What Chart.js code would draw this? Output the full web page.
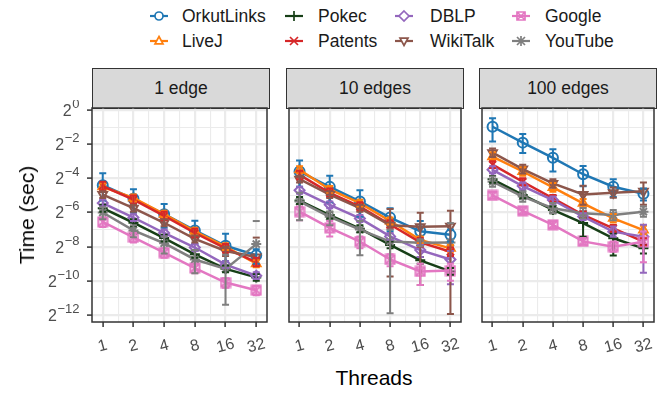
<!DOCTYPE html>
<html>
<head>
<meta charset="utf-8">
<script src="https://cdn.jsdelivr.net/npm/chart.js@4/dist/chart.umd.min.js"></script>
<style>
  body { margin: 0; background: #fff; width: 665px; height: 393px; position: relative; overflow: hidden;
         font-family: "Liberation Sans", Arial, sans-serif; }
  canvas { position: absolute; }
  .strip { position: absolute; top: 68px; height: 41px; width: 178px; box-sizing: border-box;
           background: #D9D9D9; border: 1.4px solid #333; font-size: 17.5px; color: #1a1a1a;
           text-align: center; line-height: 38px; }
  .lg { position: absolute; font-size: 17.5px; color: #1a1a1a; line-height: 20px; white-space: nowrap; }
  .title { position: absolute; font-size: 21px; color: #000; white-space: nowrap; }
</style>
</head>
<body>
<div id="legend"></div>
<div class="strip" style="left:92px">1 edge</div>
<div class="strip" style="left:286px">10 edges</div>
<div class="strip" style="left:479px">100 edges</div>
<canvas id="p0" width="274" height="265" style="left:0px;top:100px"></canvas>
<canvas id="p1" width="186" height="265" style="left:282px;top:100px"></canvas>
<canvas id="p2" width="186" height="265" style="left:475px;top:100px"></canvas>
<div class="title" style="left:27px;top:215px;transform:translate(-50%,-50%) rotate(-90deg)">Time (sec)</div>
<div class="title" style="left:374px;top:378px;transform:translate(-50%,-50%)">Threads</div>
<script>
// Threads on x, time on a log2 axis (values below are log2 of seconds)
const threads = ['1', '2', '4', '8', '16', '32'];
const panelTitles = ['1 edge', '10 edges', '100 edges'];
const seriesNames = ['OrkutLinks', 'LiveJ', 'Pokec', 'Patents', 'DBLP', 'WikiTalk', 'Google', 'YouTube'];
const seriesColors = ['#1F77B4', '#FF7F0E', '#173F17', '#D62728', '#9467BD', '#8C564B', '#E377C2', '#7F7F7F'];
const yTickPowers = [0, -2, -4, -6, -8, -10, -12];

// 1 edge
const time1 = [
  [-4.4, -5.2, -6.1, -7.05, -7.95, -8.5],
  [-4.5, -5.15, -6.1, -7.1, -8.0, -9.0],
  [-5.75, -6.6, -7.5, -8.45, -9.3, -9.8],
  [-4.45, -5.25, -6.2, -7.2, -8.1, -8.9],
  [-5.45, -6.3, -7.2, -8.05, -9.05, -9.7],
  [-4.95, -5.75, -6.6, -7.55, -8.25, -8.6],
  [-6.55, -7.45, -8.35, -9.25, -10.1, -10.55],
  [-6.0, -7.05, -7.8, -8.75, -9.3, -7.85]
];
const up1 = [
  [0.7, 0.56, 0.6, 0.56, 0.7, 0.35],
  [0.2, 0.2, 0.2, 0.2, 0.2, 0.2],
  [0.2, 0.2, 0.2, 0.2, 0.2, 0.2],
  [0.25, 0.25, 0.25, 0.25, 0.25, 0.25],
  [0.2, 0.2, 0.2, 0.2, 0.2, 0.2],
  [0.2, 0.2, 0.2, 0.2, 0.25, 1.13],
  [0.25, 0.25, 0.25, 0.25, 0.25, 0.25],
  [0.3, 0.3, 0.4, 0.55, 0.82, 1.35]
];
const down1 = [
  [0.9, 0.8, 0.8, 0.8, 0.9, 0.5],
  [0.2, 0.2, 0.2, 0.2, 0.2, 0.2],
  [0.2, 0.2, 0.2, 0.2, 0.2, 0.2],
  [0.25, 0.25, 0.25, 0.25, 0.25, 0.25],
  [0.2, 0.2, 0.2, 0.2, 0.2, 0.2],
  [0.2, 0.2, 0.2, 0.2, 0.3, null],
  [0.3, 0.3, 0.3, 0.3, 0.3, 0.3],
  [0.4, 0.4, 0.6, 0.8, 2.1, null]
];

// 10 edges
const time10 = [
  [-3.6, -4.5, -5.35, -6.3, -7.1, -7.3],
  [-3.5, -4.65, -5.45, -6.5, -7.6, -8.1],
  [-5.3, -6.15, -6.95, -7.9, -8.8, -9.45],
  [-3.8, -4.85, -5.65, -6.7, -7.75, -8.3],
  [-4.7, -5.55, -6.35, -7.4, -8.2, -8.75],
  [-4.05, -4.95, -5.75, -6.75, -6.83, -6.8],
  [-5.95, -6.9, -7.7, -8.75, -9.45, -9.4],
  [-5.35, -6.25, -7.0, -7.7, -7.77, -7.75]
];
const up10 = [
  [0.65, 0.65, 0.65, 0.55, 0.6, 0.3],
  [0.2, 0.2, 0.2, 0.2, 0.2, 0.2],
  [0.2, 0.2, 0.2, 0.2, 0.2, 0.2],
  [0.25, 0.25, 0.25, 0.25, 0.25, 0.25],
  [0.2, 0.2, 0.2, 0.2, 0.3, 0.5],
  [0.2, 0.2, 0.2, 0.95, 0.82, 0.9],
  [0.3, 0.4, 0.3, 0.3, 0.45, 0.4],
  [0.5, 0.3, 0.5, 0.7, 0.2, 1.13]
];
const down10 = [
  [0.9, 0.9, 0.9, 0.8, 0.8, 0.4],
  [0.2, 0.2, 0.2, 0.2, 0.2, 0.2],
  [0.2, 0.2, 0.2, 0.2, 0.2, 0.2],
  [0.25, 0.25, 0.25, 0.25, 0.25, 0.25],
  [0.2, 0.2, 0.2, 0.2, 0.4, 1.45],
  [0.2, 0.2, 0.2, 3.0, 3.42, 5.14],
  [0.5, 0.5, 0.4, 0.4, 0.8, 0.6],
  [1.1, 0.5, 1.5, 4.2, 0.2, null]
];

// 100 edges
const time100 = [
  [-0.98, -1.91, -2.8, -3.76, -4.49, -4.9],
  [-2.73, -3.6, -4.53, -5.46, -6.34, -7.03],
  [-4.06, -4.97, -5.85, -6.62, -7.51, -8.1],
  [-3.2, -4.2, -5.17, -6.14, -6.93, -7.71],
  [-3.5, -4.45, -5.27, -6.24, -7.12, -7.42],
  [-2.5, -3.46, -4.3, -4.94, -4.84, -4.75],
  [-5.0, -5.9, -6.72, -7.69, -8.0, -7.71],
  [-4.2, -5.07, -5.75, -6.04, -6.15, -5.95]
];
const up100 = [
  [0.49, 0.5, 0.5, 0.48, 0.43, 0.3],
  [0.25, 0.25, 0.25, 0.25, 0.25, 0.25],
  [0.2, 0.2, 0.2, 0.3, 0.3, 0.2],
  [0.2, 0.2, 0.2, 0.2, 0.2, 0.2],
  [0.2, 0.2, 0.2, 0.2, 0.3, 0.7],
  [0.25, 0.25, 0.25, 0.5, 0.3, 0.5],
  [0.2, 0.2, 0.2, 0.2, 0.3, 0.6],
  [0.3, 0.3, 0.3, 0.3, 0.3, 0.3]
];
const down100 = [
  [0.87, 0.6, 0.8, 0.7, 0.6, 0.4],
  [0.25, 0.25, 0.25, 0.25, 0.25, 0.25],
  [0.2, 0.2, 0.2, 0.8, 1.0, 0.3],
  [0.2, 0.2, 0.2, 0.2, 0.2, 0.2],
  [0.2, 0.2, 0.2, 0.2, 0.3, 2.1],
  [0.25, 0.25, 0.25, 0.6, 0.3, 0.8],
  [0.2, 0.2, 0.2, 0.2, 0.3, 1.2],
  [0.3, 0.3, 0.3, 0.3, 0.3, 0.3]
];

const times = [time1, time10, time100];
const ups = [up1, up10, up100];
const downs = [down1, down10, down100];

// google marker: square with a cross
function boxCross(color) {
  const c = document.createElement('canvas');
  c.width = c.height = 12;
  const g = c.getContext('2d');
  g.strokeStyle = color;
  g.lineWidth = 2;
  g.strokeRect(1.5, 1.5, 9, 9);
  g.beginPath();
  g.moveTo(1.5, 1.5); g.lineTo(10.5, 10.5);
  g.moveTo(10.5, 1.5); g.lineTo(1.5, 10.5);
  g.stroke();
  return c;
}

const pointStyles = ['circle', 'triangle', 'cross', 'crossRot', 'rectRot', 'triangle', boxCross(seriesColors[6]), 'star'];
const pointRots = [0, 0, 0, 0, 0, 180, 0, 0];

// legend keys
function drawKey(g, i, cx, cy) {
  const col = seriesColors[i];
  g.strokeStyle = col;
  g.lineWidth = 2.2;
  g.beginPath(); g.moveTo(cx - 9, cy); g.lineTo(cx + 9, cy); g.stroke();
  g.lineWidth = 1.7;
  g.beginPath();
  const r = 4;
  switch (i) {
    case 0: g.arc(cx, cy, r, 0, Math.PI * 2); break;
    case 1: g.moveTo(cx, cy - r - 0.5); g.lineTo(cx + r, cy + r * 0.7); g.lineTo(cx - r, cy + r * 0.7); g.closePath(); break;
    case 2: g.moveTo(cx - r - 1, cy); g.lineTo(cx + r + 1, cy); g.moveTo(cx, cy - r - 1); g.lineTo(cx, cy + r + 1); break;
    case 3: g.moveTo(cx - r, cy - r); g.lineTo(cx + r, cy + r); g.moveTo(cx + r, cy - r); g.lineTo(cx - r, cy + r); break;
    case 4: g.moveTo(cx, cy - r - 1); g.lineTo(cx + r + 1, cy); g.lineTo(cx, cy + r + 1); g.lineTo(cx - r - 1, cy); g.closePath(); break;
    case 5: g.moveTo(cx, cy + r + 0.5); g.lineTo(cx + r, cy - r * 0.7); g.lineTo(cx - r, cy - r * 0.7); g.closePath(); break;
    case 6: g.rect(cx - r, cy - r, 2 * r, 2 * r); g.moveTo(cx - r, cy - r); g.lineTo(cx + r, cy + r); g.moveTo(cx + r, cy - r); g.lineTo(cx - r, cy + r); break;
    case 7:
      g.moveTo(cx - r - 1, cy); g.lineTo(cx + r + 1, cy); g.moveTo(cx, cy - r - 1); g.lineTo(cx, cy + r + 1);
      g.moveTo(cx - r, cy - r); g.lineTo(cx + r, cy + r); g.moveTo(cx + r, cy - r); g.lineTo(cx - r, cy + r); break;
  }
  if (i === 0 || i === 1 || i === 4 || i === 5) { g.fillStyle = '#fff'; g.fill(); }
  g.stroke();
}

const keyX = [159, 294, 404, 521];
const textX = [182, 318, 430, 545];
const rowY = [16, 41];
const legendEl = document.getElementById('legend');
seriesNames.forEach((name, i) => {
  const col = Math.floor(i / 2), row = i % 2;
  const c = document.createElement('canvas');
  c.width = 24; c.height = 16;
  c.style.left = (keyX[col] - 12) + 'px';
  c.style.top = (rowY[row] - 8) + 'px';
  drawKey(c.getContext('2d'), i, 12, 8);
  legendEl.appendChild(c);
  const t = document.createElement('div');
  t.className = 'lg';
  t.textContent = name;
  t.style.left = textX[col] + 'px';
  t.style.top = (rowY[row] - 10) + 'px';
  legendEl.appendChild(t);
});

const xGrid = [0, 0.5, 1, 1.5, 2, 2.5, 3, 3.5, 4, 4.5, 5];
const yGrid = [0, -1, -2, -3, -4, -5, -6, -7, -8, -9, -10, -11, -12];

const panelDecor = {
  id: 'panelDecor',
  afterDatasetsDraw(chart, args, opts) {
    const { ctx, chartArea: a, scales: { x, y } } = chart;
    const p = opts.panel;
    ctx.save();
    ctx.beginPath();
    ctx.rect(a.left, a.top, a.right - a.left, a.bottom - a.top);
    ctx.clip();
    ctx.lineWidth = 2;
    seriesNames.forEach((n, i) => {
      ctx.strokeStyle = seriesColors[i];
      times[p][i].forEach((v, j) => {
        const px = x.getPixelForValue(j);
        const top = y.getPixelForValue(v + ups[p][i][j]);
        const dn = downs[p][i][j];
        ctx.beginPath();
        ctx.moveTo(px - 3.5, top); ctx.lineTo(px + 3.5, top);
        if (dn !== null) {
          const bot = y.getPixelForValue(v - dn);
          ctx.moveTo(px, top); ctx.lineTo(px, bot);
          ctx.moveTo(px - 3.5, bot); ctx.lineTo(px + 3.5, bot);
        }
        ctx.stroke();
      });
    });
    ctx.restore();
  },
  afterDraw(chart, args, opts) {
    const { ctx, chartArea: a, scales: { x, y } } = chart;
    ctx.save();
    ctx.strokeStyle = '#333';
    ctx.lineWidth = 1.5;
    ctx.strokeRect(a.left, a.top, a.right - a.left, a.bottom - a.top);
    // x tick labels, slightly tilted
    ctx.fillStyle = '#4D4D4D';
    ctx.font = '16px "Liberation Sans", Arial, sans-serif';
    ctx.textAlign = 'center';
    ctx.textBaseline = 'middle';
    threads.forEach((t, j) => {
      ctx.save();
      ctx.translate(x.getPixelForValue(j), a.bottom + 24);
      ctx.rotate(-15 * Math.PI / 180);
      ctx.fillText(t, 0, 0);
      ctx.restore();
    });
    // y tick labels as 2^n
    if (opts.panel === 0) {
      ctx.textAlign = 'left';
      ctx.textBaseline = 'alphabetic';
      yTickPowers.forEach(v => {
        const py = y.getPixelForValue(v);
        const exp = v === 0 ? '0' : '\u2212' + Math.abs(v);
        ctx.font = '16px "Liberation Sans", Arial, sans-serif';
        const wb = ctx.measureText('2').width;
        ctx.font = '13px "Liberation Sans", Arial, sans-serif';
        const we = ctx.measureText(exp).width;
        const x0 = a.left - 13 - wb - we;
        ctx.font = '16px "Liberation Sans", Arial, sans-serif';
        ctx.fillText('2', x0, py + 6);
        ctx.font = '13px "Liberation Sans", Arial, sans-serif';
        ctx.fillText(exp, x0 + wb + 0.5, py - 2);
      });
    }
    ctx.restore();
  }
};

function makePanel(p) {
  const first = p === 0;
  const datasets = seriesNames.map((name, i) => ({
    label: name,
    data: times[p][i].map((v, j) => ({ x: j, y: v })),
    borderColor: seriesColors[i],
    backgroundColor: 'rgba(0,0,0,0)',
    borderWidth: 2.5,
    tension: 0,
    pointStyle: pointStyles[i],
    rotation: pointRots[i],
    pointRadius: 5,
    pointBorderWidth: 2,
    pointBorderColor: seriesColors[i],
    pointBackgroundColor: 'rgba(0,0,0,0)',
    order: seriesNames.length - i
  }));
  new Chart(document.getElementById('p' + p), {
    type: 'line',
    data: { datasets },
    options: {
      responsive: false,
      animation: false,
      events: [],
      layout: { padding: { left: 0, right: 4, top: 8, bottom: 0 } },
      plugins: {
        legend: { display: false },
        tooltip: { enabled: false },
        panelDecor: { panel: p }
      },
      scales: {
        x: {
          type: 'linear',
          min: -0.35,
          max: 5.35,
          afterBuildTicks: s => { s.ticks = xGrid.map(v => ({ value: v })); },
          afterFit: s => { s.height = 43; },
          ticks: { display: false },
          border: { display: false },
          grid: {
            color: '#EBEBEB',
            lineWidth: c => (c.tick && c.tick.value % 1 === 0) ? 2.2 : 1.1,
            tickColor: c => (c.tick && c.tick.value % 1 === 0) ? '#333' : 'rgba(0,0,0,0)',
            tickLength: 5,
            tickWidth: 1.5
          }
        },
        y: {
          type: 'linear',
          min: -12.41,
          max: 0.117,
          afterBuildTicks: s => { s.ticks = yGrid.map(v => ({ value: v })); },
          afterFit: s => { s.width = first ? 92 : 4; },
          ticks: { display: false },
          border: { display: false },
          grid: {
            color: '#EBEBEB',
            lineWidth: c => (c.tick && c.tick.value % 2 === 0) ? 2.2 : 1.1,
            drawTicks: first,
            tickColor: c => (c.tick && c.tick.value % 2 === 0) ? '#333' : 'rgba(0,0,0,0)',
            tickLength: 5,
            tickWidth: 1.5
          }
        }
      }
    },
    plugins: [panelDecor]
  });
}

[0, 1, 2].forEach(makePanel);
</script>
</body>
</html>
